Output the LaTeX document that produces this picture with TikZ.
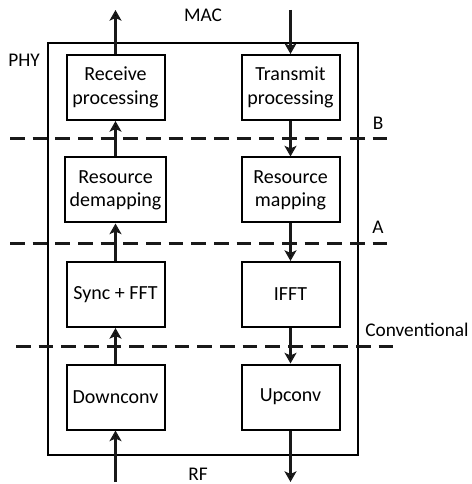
\documentclass[tikz,border=0pt]{standalone}
\usepackage{fontspec}
\setmainfont{Carlito}
\usetikzlibrary{arrows.meta}
\tikzset{
    split label/.style={
        font=\fontsize{14.5pt}{17pt}\selectfont,
        inner sep=1pt
    }
}

\begin{document}
\begin{tikzpicture}[x=0.75pt, y=-0.75pt, >={Stealth[length=8pt, width=9pt, inset=2pt]}]

    \tikzstyle{block} = [
        rectangle,
        draw=black,
        line width=1.5pt,
        minimum width=73.5pt,
        minimum height=48.75pt,
        align=center,
        font=\fontsize{15pt}{17.5pt}\selectfont
    ]
    \tikzstyle{flow} = [line width=2.25pt, draw=black!90]
    \tikzstyle{cut} = [line width=2.25pt, dash pattern=on 11pt off 6pt, draw=black!90]

    \useasboundingbox (0,0) rectangle (471,484);

    % Cadre PHY
    \draw[line width=1.5pt] (48,43) rectangle (358,455);

    % Chaîne de réception
    \node[block] (rx) at (115.5,87.5) {Receive\\processing};
    \node[block] (demap) at (115.5,190) {Resource\\demapping};
    \node[block] (sync) at (115.5,294.5) {Sync + FFT};
    \node[block] (down) at (115.5,397) {Downconv};

    % Chaîne d'émission
    \node[block] (tx) at (290.5,87.5) {Transmit\\processing};
    \node[block] (map) at (290.5,190) {Resource\\mapping};
    \node[block] (ifft) at (290.5,294.5) {IFFT};
    \node[block] (up) at (290.5,397) {Upconv};

    % Extrémités libres
    \coordinate (macout) at (115.5,10);
    \coordinate (macin) at (290.5,10);
    \coordinate (rfin) at (115.5,482);
    \coordinate (rfout) at (290.5,482);

    % Lignes de séparation
    \draw[cut] (10,139) -- (390,139);
    \draw[cut] (10,243) -- (392,243);
    \draw[cut] (16,346) -- (397,346);

    % Flèches
    \path[flow]
        (rfin) edge[->] (down)
        (down) edge[->] (sync)
        (sync) edge[->] (demap)
        (demap) edge[->] (rx)
        (rx) edge[->] (macout)
        (macin) edge[->] (tx)
        (tx) edge[->] (map)
        (map) edge[->] (ifft)
        (ifft) edge[->] (up)
        (up) edge[->] (rfout);

    % Étiquettes
    \node[split label] (mac) at (203,15) {MAC};
    \node[split label] (phy) at (24,60) {PHY};
    \node[split label] (labB) at (378,123) {B};
    \node[split label] (labA) at (378,227) {A};
    \node[split label] (labconv) at (417,330) {Conventional};
    \node[split label] (rf) at (198,474) {RF};

\end{tikzpicture}
\end{document}
